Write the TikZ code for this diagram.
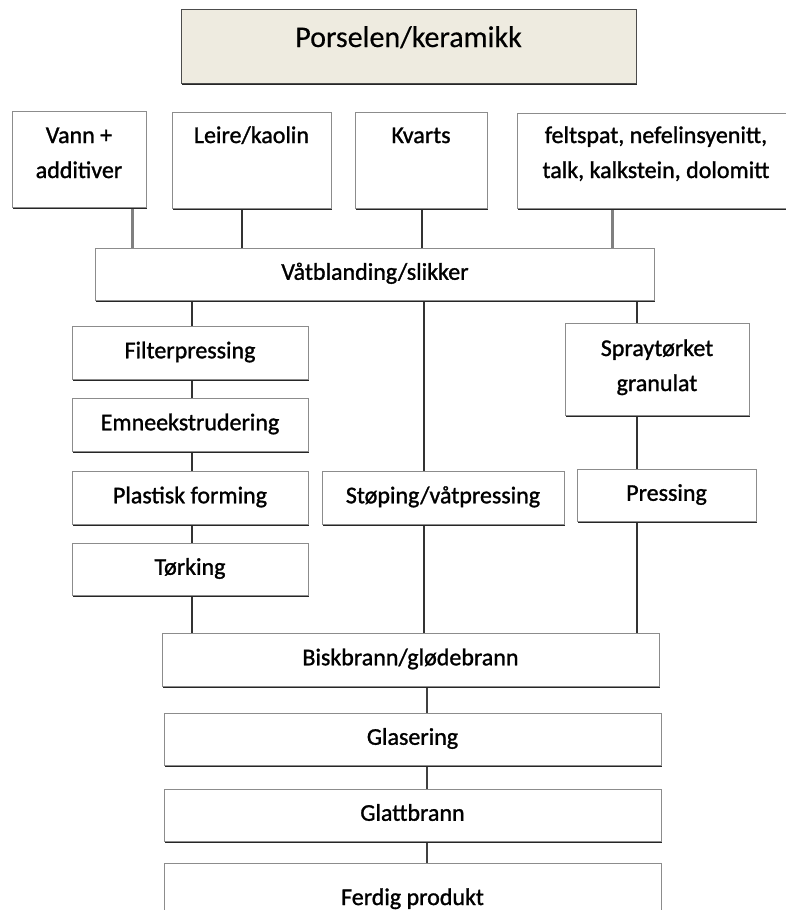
\documentclass[tikz,border=0pt]{standalone}
\usepackage{fontspec}
\setmainfont{Carlito}[FakeBold=1.2]
\newfontfamily\titlefont{Carlito}[FakeBold=0.4]
\usetikzlibrary{shadows,backgrounds}
\begin{document}
\begin{tikzpicture}[x=1pt,y=-1pt,
  boxbase/.style={draw=black!45, line width=0.8pt, fill=white,
    drop shadow={shadow xshift=0.8pt,shadow yshift=-1.8pt,opacity=1,fill=black!85},
    inner sep=0pt, font=\fontsize{24}{35}\selectfont},
  box/.style={boxbase, text height=11.5pt, text depth=0pt},
  txt/.style={inner sep=0pt, anchor=base, font=\fontsize{24}{35}\selectfont},
  conn/.style={draw=black!80, line width=2.6pt},
  conng/.style={draw=black!50, line width=3pt},
  connt/.style={draw=black!75, line width=1.4pt}]
\useasboundingbox (0,0) rectangle (786,910);
\clip (0,0) rectangle (786,910);

% title
\node[boxbase, fill={rgb,255:red,238;green,235;blue,224}, draw=black!70,
  minimum width=455pt, minimum height=74pt] (title) at (409,46) {};
\node[txt, font=\titlefont\fontsize{30}{36}\selectfont] (titleT) at (408.5,47) {Porselen/keramikk};

% raw materials
\node[boxbase, minimum width=134pt, minimum height=96pt] (vann) at (79,159) {};
\node[txt] (vannT) at (79,143) {\begin{tabular}[t]{@{}c@{}}Vann +\\additiver\end{tabular}};
\node[boxbase, minimum width=159pt, minimum height=96pt] (leire) at (251.5,160) {};
\node[txt] (leireT) at (251.5,143) {Leire/kaolin};
\node[boxbase, minimum width=132pt, minimum height=96pt] (kvarts) at (421,160) {};
\node[txt] (kvartsT) at (421,143) {Kvarts};
\node[boxbase, minimum width=278pt, minimum height=95pt] (felt) at (656,160.5) {};
\node[txt] (feltT) at (656,143) {\begin{tabular}[t]{@{}c@{}}feltspat, nefelinsyenitt,\\talk, kalkstein, dolomitt\end{tabular}};

% mixing
\node[box, minimum width=559pt, minimum height=52pt] (vat) at (375,274) {Våtblanding/slikker};

% left column
\node[box, minimum width=236pt, minimum height=53pt] (filter) at (190,352.5) {Filterpressing};
\node[box, minimum width=236pt, minimum height=53pt] (emne) at (190,424.5) {Emneekstrudering};
\node[box, minimum width=236pt, minimum height=53pt] (plast) at (190,497.5) {Plastisk forming};
\node[box, minimum width=236pt, minimum height=52pt] (tork) at (190,569) {Tørking};

% middle
\node[box, minimum width=242pt, minimum height=53pt] (stop) at (443,497.5) {Støping/våtpressing};

% right column
\node[boxbase, minimum width=184pt, minimum height=92pt] (spray) at (657,369) {};
\node[txt] (sprayT) at (657,356) {\begin{tabular}[t]{@{}c@{}}Spraytørket\\granulat\end{tabular}};
\node[box, minimum width=179pt, minimum height=52pt] (press) at (666.5,495) {Pressing};

% firing
\node[box, minimum width=497pt, minimum height=53pt] (bisk) at (410.5,659.5) {Biskbrann/glødebrann};
\node[box, minimum width=497pt, minimum height=52pt] (glas) at (412.5,739) {Glasering};
\node[box, minimum width=497pt, minimum height=52pt] (glatt) at (412.5,815) {Glattbrann};
\node[boxbase, minimum width=497pt, minimum height=90pt] (ferdig) at (412.5,908) {};
\node[txt] (ferdigT) at (412.5,905) {Ferdig produkt};

% connector x positions
\coordinate (xa) at (132,0);
\coordinate (xb) at (242,0);
\coordinate (xc) at (422,0);
\coordinate (xd) at (612,0);
\coordinate (xl) at (192,0);
\coordinate (xm) at (424,0);
\coordinate (xr) at (637,0);
\coordinate (xs) at (427,0);

\begin{pgfonlayer}{background}
\fill[white] (0,0) rectangle (786,910);
\draw[conng] (vann.south -| xa) -- (vat.north -| xa);
\draw[conn]  (leire.south -| xb) -- (vat.north -| xb);
\draw[conn]  (kvarts.south -| xc) -- (vat.north -| xc);
\draw[conng] (felt.south -| xd) -- (vat.north -| xd);

\draw[conn] (vat.south -| xl) -- (filter.north -| xl);
\draw[conn] (filter.south -| xl) -- (emne.north -| xl);
\draw[conn] (emne.south -| xl) -- (plast.north -| xl);
\draw[conn] (plast.south -| xl) -- (tork.north -| xl);
\draw[conn] (tork.south -| xl) -- (bisk.north -| xl);

\draw[conn] (vat.south -| xm) -- (stop.north -| xm);
\draw[conn] (stop.south -| xm) -- (bisk.north -| xm);

\draw[conn] (vat.south -| xr) -- (spray.north -| xr);
\draw[conn] (spray.south -| xr) -- (press.north -| xr);
\draw[conn] (press.south -| xr) -- (bisk.north -| xr);

\draw[connt] (bisk.south -| xs) -- (glas.north -| xs);
\draw[connt] (glas.south -| xs) -- (glatt.north -| xs);
\draw[connt] (glatt.south -| xs) -- (ferdig.north -| xs);
\end{pgfonlayer}
\end{tikzpicture}
\end{document}
